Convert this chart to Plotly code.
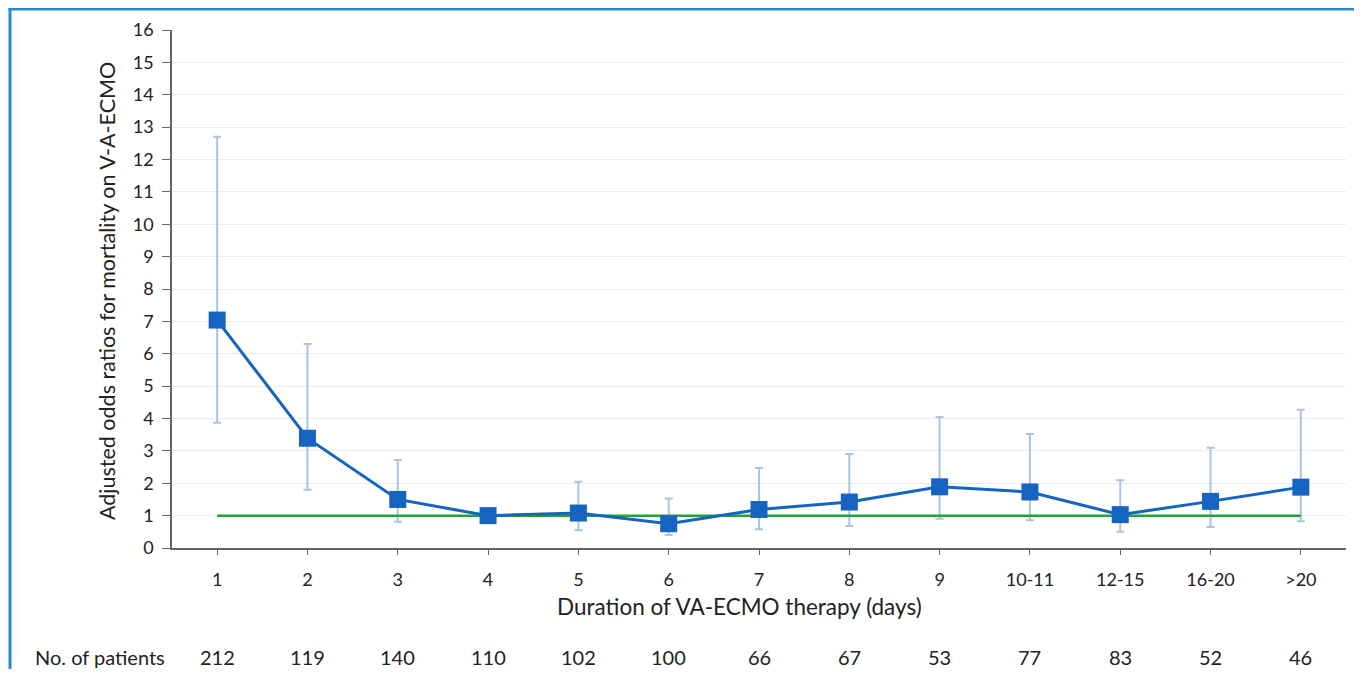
import plotly.graph_objects as go

categories = ["1", "2", "3", "4", "5", "6", "7", "8", "9", "10-11", "12-15", "16-20", ">20"]
odds_ratio = [7.04, 3.39, 1.50, 1.00, 1.08, 0.75, 1.19, 1.42, 1.89, 1.73, 1.03, 1.44, 1.88]
ci_upper = [12.7, 6.30, 2.72, None, 2.05, 1.53, 2.47, 2.90, 4.05, 3.52, 2.09, 3.10, 4.27]
ci_lower = [3.87, 1.80, 0.81, None, 0.55, 0.40, 0.58, 0.68, 0.90, 0.86, 0.50, 0.65, 0.83]
patients = [212, 119, 140, 110, 102, 100, 66, 67, 53, 77, 83, 52, 46]
reference_value = [1] * len(categories)

err_plus = [(u - v) if u is not None else 0 for u, v in zip(ci_upper, odds_ratio)]
err_minus = [(v - l) if l is not None else 0 for l, v in zip(ci_lower, odds_ratio)]

FONT = "Lato, 'Open Sans', sans-serif"
OFF = 8  # page body margin
W, H = 1362 - 2 * OFF, 677 - 2 * OFF
# target screen coordinates of plot area
L, R, T, B = 172, 1346, 30, 548
pw, ph = R - L, B - T

def px(x):
    return (x - L) / pw

def py(y):
    return (B - y) / ph

fig = go.Figure()

fig.add_trace(go.Scatter(
    x=categories, y=odds_ratio, mode="markers",
    marker=dict(size=1, color="rgba(0,0,0,0)"),
    error_y=dict(type="data", symmetric=False, array=err_plus, arrayminus=err_minus,
                 color="#aec3e2", thickness=2, width=4),
    hoverinfo="skip", showlegend=False,
))

fig.add_trace(go.Scatter(
    x=categories, y=reference_value, mode="lines",
    line=dict(color="#1fa637", width=2.5), showlegend=False,
))

fig.add_trace(go.Scatter(
    x=categories, y=odds_ratio, mode="lines+markers",
    line=dict(color="#1565c0", width=3),
    marker=dict(symbol="square", size=17, color="#1565c0"),
    showlegend=False,
))

TXT = dict(family=FONT, size=20, color="#222")
annotations = []
for i, n in enumerate(patients):
    annotations.append(dict(x=i, y=py(657), xref="x", yref="paper", text=str(n),
                            showarrow=False, font=TXT, xanchor="center", yanchor="middle"))
annotations.append(dict(x=px(33), y=py(657), xref="paper", yref="paper", text="No. of patients",
                        showarrow=False, font=TXT, xanchor="left", yanchor="middle"))
annotations.append(dict(x=px(739), y=py(607), xref="paper", yref="paper",
                        text="Duration of VA-ECMO therapy (days)", showarrow=False,
                        font=dict(family=FONT, size=22.5, color="#222"),
                        xanchor="center", yanchor="middle"))
annotations.append(dict(x=px(107), y=py(291), xref="paper", yref="paper",
                        text="Adjusted odds ratios for mortality on V-A-ECMO", showarrow=False,
                        textangle=-90, font=dict(family=FONT, size=21.5, color="#222"),
                        xanchor="center", yanchor="middle"))

shapes = [
    dict(type="line", xref="paper", yref="paper", x0=px(8.5), x1=px(1362), y0=py(9), y1=py(9),
         line=dict(color="#2a8bd1", width=3)),
    dict(type="line", xref="paper", yref="paper", x0=px(10), x1=px(10), y0=py(8), y1=py(677),
         line=dict(color="#2a8bd1", width=3)),
]

fig.update_layout(
    width=W, height=H,
    margin=dict(l=L - OFF, r=(W + OFF) - R, t=T - OFF, b=(H + OFF) - B),
    paper_bgcolor="white", plot_bgcolor="white",
    font=dict(family=FONT, size=18, color="#222"),
    annotations=annotations, shapes=shapes,
    xaxis=dict(
        type="category", range=[-0.5, 12.5],
        showgrid=False, showline=True, linecolor="#666", linewidth=1.5,
        ticks="outside", ticklen=5, tickcolor="#666",
        tickfont=dict(family=FONT, size=18, color="#222"),
        ticklabelstandoff=10,
    ),
    yaxis=dict(
        range=[0, 16], dtick=1, tick0=0,
        showgrid=True, gridcolor="#ececec", gridwidth=1,
        showline=True, linecolor="#666", linewidth=1.5,
        ticks="outside", ticklen=8, tickcolor="#666",
        tickfont=dict(family=FONT, size=18, color="#222"),
        ticklabelstandoff=5,
        zeroline=False,
    ),
)

fig.write_html("out.html")
